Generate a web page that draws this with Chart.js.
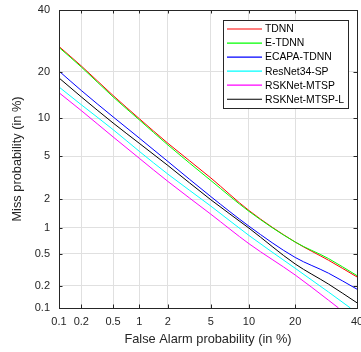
<!DOCTYPE html>
<html>
<head>
<meta charset="utf-8">
<script src="https://cdn.jsdelivr.net/npm/chart.js@4.4.0/dist/chart.umd.min.js"></script>
<style>
  html, body { margin: 0; padding: 0; background: #fff; }
  #detChart { display: block; }
</style>
</head>
<body>
<canvas id="detChart" width="361" height="352"></canvas>
<script>
// Axis ticks (in %), same on both axes
const tickPercents = [0.1, 0.2, 0.5, 1, 2, 5, 10, 20, 40];
const tickLabels = ['0.1', '0.2', '0.5', '1', '2', '5', '10', '20', '40'];

// False alarm points (in %) and miss probabilities (in %)
const faPoints = [0.1, 0.2, 0.5, 1, 2, 5, 10, 20, 30, 40];
const tdnnMiss = [27.4, 21.6, 14.3, 9.9, 6.4, 3.2, 1.53, 0.69, 0.42, 0.26];
const etdnnMiss = [27.1, 21.3, 14.0, 9.7, 6.2, 3.03, 1.50, 0.69, 0.44, 0.27];
const ecapaMiss = [20.2, 15.4, 10.2, 7.05, 4.5, 2.12, 1.04, 0.454, 0.29, 0.18];
const resnetFA = [0.1, 0.2, 0.5, 1, 2, 5, 10, 20, 30, 37.6];
const resnetMiss = [16.2, 12.4, 8.2, 5.5, 3.47, 1.70, 0.82, 0.334, 0.165, 0.1];
const mtspFA = [0.1, 0.2, 0.5, 1, 2, 5, 10, 20, 30, 33.4];
const mtspMiss = [14.9, 11.3, 7.2, 4.8, 2.97, 1.40, 0.66, 0.275, 0.128, 0.1];
const mtspLMiss = [18.4, 14.0, 9.2, 6.4, 4.15, 1.97, 0.99, 0.378, 0.21, 0.118];

const axisColor = '#262626';
const gridColor = '#e0e0e0';
const fontFamily = '"Liberation Sans", Arial, Helvetica, sans-serif';

// inverse normal CDF (Acklam) -> DET axis warping
function probit(p) {
    const a = [-39.69683028665376, 220.9460984245205, -275.9285104469687, 138.3577518672690, -30.66479806614716, 2.506628277459239];
    const b = [-54.47609879822406, 161.5858368580409, -155.6989798598866, 66.80131188771972, -13.28068155288572];
    const c = [-0.007784894002430293, -0.3223964580411365, -2.400758277161838, -2.549732539343734, 4.374664141464968, 2.938163982698783];
    const d = [0.007784695709041462, 0.3224671290700398, 2.445134137142996, 3.754408661907416];
    const pl = 0.02425;
    let q, r;
    if (p < pl) {
        q = Math.sqrt(-2 * Math.log(p));
        return (((((c[0]*q + c[1])*q + c[2])*q + c[3])*q + c[4])*q + c[5]) /
               ((((d[0]*q + d[1])*q + d[2])*q + d[3])*q + 1);
    }
    if (p <= 1 - pl) {
        q = p - 0.5; r = q * q;
        return (((((a[0]*r + a[1])*r + a[2])*r + a[3])*r + a[4])*r + a[5]) * q /
               (((((b[0]*r + b[1])*r + b[2])*r + b[3])*r + b[4])*r + 1);
    }
    q = Math.sqrt(-2 * Math.log(1 - p));
    return -(((((c[0]*q + c[1])*q + c[2])*q + c[3])*q + c[4])*q + c[5]) /
            ((((d[0]*q + d[1])*q + d[2])*q + d[3])*q + 1);
}

const toPoints = (fa, miss) => fa.map((f, i) => ({ x: probit(f / 100), y: probit(miss[i] / 100) }));

const series = [
    { label: 'TDNN', color: '#ff0000', fa: faPoints, miss: tdnnMiss },
    { label: 'E-TDNN', color: '#00ff00', fa: faPoints, miss: etdnnMiss },
    { label: 'ECAPA-TDNN', color: '#0000ff', fa: faPoints, miss: ecapaMiss },
    { label: 'ResNet34-SP', color: '#00ffff', fa: resnetFA, miss: resnetMiss },
    { label: 'RSKNet-MTSP', color: '#ff00ff', fa: mtspFA, miss: mtspMiss },
    { label: 'RSKNet-MTSP-L', color: '#000000', fa: faPoints, miss: mtspLMiss }
];

// box around plot + inward ticks (matlab style)
const boxPlugin = {
    id: 'detBox',
    afterDraw(chart) {
        const { ctx, chartArea: a, scales } = chart;
        const tl = 3.5;
        ctx.save();
        ctx.strokeStyle = axisColor;
        ctx.lineWidth = 1;
        ctx.strokeRect(a.left + 0.5, a.top + 0.5, a.right - a.left, a.bottom - a.top);
        ctx.beginPath();
        scales.x.ticks.forEach(t => {
            const px = Math.round(scales.x.getPixelForValue(t.value)) + 0.5;
            ctx.moveTo(px, a.bottom); ctx.lineTo(px, a.bottom - tl);
            ctx.moveTo(px, a.top); ctx.lineTo(px, a.top + tl);
        });
        scales.y.ticks.forEach(t => {
            const py = Math.round(scales.y.getPixelForValue(t.value)) + 0.5;
            ctx.moveTo(a.left, py); ctx.lineTo(a.left + tl, py);
            ctx.moveTo(a.right, py); ctx.lineTo(a.right - tl, py);
        });
        ctx.stroke();
        ctx.restore();
    }
};

// legend box in the top right corner
const legendPlugin = {
    id: 'detLegend',
    afterDatasetsDraw(chart) {
        const ctx = chart.ctx;
        const bx = 223.5, by = 20.5, bw = 125, bh = 88;
        ctx.save();
        ctx.fillStyle = '#ffffff';
        ctx.fillRect(bx, by, bw, bh);
        ctx.strokeStyle = axisColor;
        ctx.lineWidth = 1;
        ctx.strokeRect(bx, by, bw, bh);
        ctx.font = '10.4px ' + fontFamily;
        ctx.textBaseline = 'middle';
        ctx.textAlign = 'left';
        chart.data.datasets.forEach((ds, i) => {
            const ry = 29 + i * 14.05;
            ctx.strokeStyle = ds.borderColor;
            ctx.lineWidth = 1.2;
            ctx.beginPath();
            ctx.moveTo(227, ry); ctx.lineTo(262, ry);
            ctx.stroke();
            ctx.fillStyle = '#000000';
            ctx.fillText(ds.label, 265, ry + 0.5);
        });
        ctx.restore();
    }
};

const tickFont = { family: fontFamily, size: 11 };
const titleFont = { family: fontFamily, size: 12.8 };

const ctx = document.getElementById('detChart').getContext('2d');
const detChart = new Chart(ctx, {
    type: 'line',
    data: {
        datasets: series.map((s, i) => ({
            label: s.label,
            data: toPoints(s.fa, s.miss),
            borderColor: s.color,
            backgroundColor: s.color,
            borderWidth: 1,
            pointRadius: 0,
            cubicInterpolationMode: 'monotone',
            fill: false,
            order: series.length - i
        }))
    },
    options: {
        responsive: false,
        animation: false,
        events: [],
        layout: { padding: { top: 10, right: 4, left: 0, bottom: 0 } },
        plugins: { legend: { display: false }, tooltip: { enabled: false } },
        scales: {
            x: {
                type: 'linear',
                min: probit(0.001),
                max: probit(0.4),
                afterBuildTicks: s => { s.ticks = tickPercents.map(p => ({ value: probit(p / 100) })); },
                afterFit: s => { s.height = 44; s.paddingLeft = 0; s.paddingRight = 0; },
                ticks: {
                    callback: (v, i) => tickLabels[i],
                    autoSkip: false, maxRotation: 0, padding: 7,
                    color: axisColor, font: tickFont
                },
                grid: { color: gridColor, drawTicks: false },
                border: { display: true, color: axisColor, width: 1 },
                title: {
                    display: true, text: 'False Alarm probability (in %)',
                    color: axisColor, font: titleFont, padding: { top: 0, bottom: 4.5 }
                }
            },
            y: {
                type: 'linear',
                min: probit(0.001),
                max: probit(0.4),
                afterBuildTicks: s => { s.ticks = tickPercents.map(p => ({ value: probit(p / 100) })); },
                afterFit: s => { s.width = 59; s.paddingTop = 0; s.paddingBottom = 0; },
                ticks: {
                    callback: (v, i) => tickLabels[i],
                    autoSkip: false, padding: 9,
                    color: axisColor, font: tickFont
                },
                grid: { color: gridColor, drawTicks: false },
                border: { display: true, color: axisColor, width: 1 },
                title: {
                    display: true, text: 'Miss probability (in %)',
                    color: axisColor, font: titleFont, padding: { top: 10, bottom: 0 }
                }
            }
        }
    },
    plugins: [legendPlugin, boxPlugin]
});
</script>
</body>
</html>
